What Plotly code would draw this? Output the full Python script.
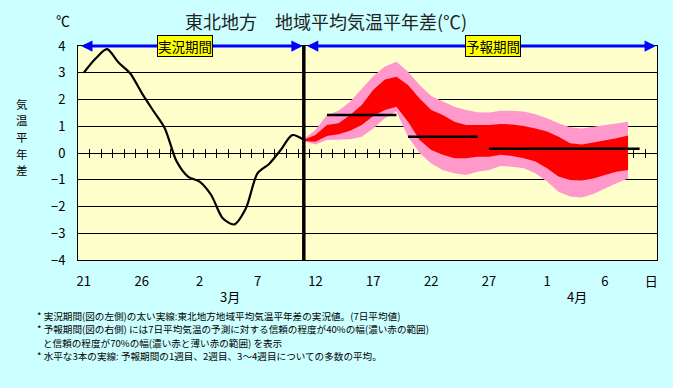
import plotly.graph_objects as go

# ---------------- data ----------------
# day index 0 = Feb 21 (2024, leap year) ... 49 = Apr 10
obs_days = list(range(0, 20))
obs_vals = [3.0, 3.52, 3.88, 3.38, 2.98, 2.25, 1.58, 0.92, -0.30, -0.88,
            -1.07, -1.57, -2.44, -2.67, -2.07, -0.76, -0.41, 0.11, 0.67, 0.49]

fc_days = list(range(19, 48))
pink_hi = [0.52, 0.86, 1.42, 1.58, 1.92, 2.38, 2.88, 3.23, 3.41, 3.04, 2.54, 2.13, 1.92, 1.73, 1.61,
           1.52, 1.51, 1.58, 1.58, 1.55, 1.45, 1.30, 1.11, 0.96, 0.92, 0.98, 1.05, 1.11, 1.17]
red_hi = [0.50, 0.67, 1.05, 1.11, 1.42, 1.79, 2.36, 2.75, 2.85, 2.54, 2.04, 1.61, 1.42, 1.17, 1.05,
          1.05, 1.05, 1.08, 1.07, 1.01, 0.92, 0.80, 0.61, 0.36, 0.32, 0.39, 0.46, 0.55, 0.65]
red_lo = [0.45, 0.42, 0.64, 0.70, 0.83, 1.05, 1.38, 1.61, 1.73, 1.17, 0.49, 0.11, -0.07, -0.20, -0.20,
          -0.14, -0.14, -0.07, -0.11, -0.20, -0.32, -0.57, -0.88, -1.01, -1.03, -0.95, -0.82, -0.70, -0.64]
pink_lo = [0.45, 0.32, 0.49, 0.49, 0.51, 0.61, 0.92, 1.30, 1.55, 0.61, 0.0, -0.39, -0.64, -0.76, -0.82,
           -0.70, -0.64, -0.49, -0.51, -0.57, -0.76, -1.07, -1.45, -1.63, -1.66, -1.53, -1.32, -1.13, -0.95]

week_start = [21, 28, 35]
week_end = [27, 34, 48]
week_avg = [1.42, 0.61, 0.16]

boundary_day = 19

tick_days = [0, 5, 10, 15, 20, 25, 30, 35, 40, 45, 49]
tick_text = ["21", "26", "2", "7", "12", "17", "22", "27", "1", "6", "日"]
ytick_vals = [-4, -3, -2, -1, 0, 1, 2, 3, 4]
ytick_text = ["−4", "−3", "−2", "−1", "0", "1", "2", "3", "4"]
ylabel_chars = ["気", "温", "平", "年", "差"]

# ---------------- geometry helpers ----------------
W, H = 673, 388
ML, MR, MT, MB = 78, 16, 46, 128
PW, PH = W - ML - MR, H - MT - MB


def px(x):
    return (x - ML) / PW


def py(y):
    return (H - MB - y) / PH


FONT = "Noto Sans CJK JP"
BLUE = "#0000FF"

fig = go.Figure()

# bands
fig.add_trace(go.Scatter(x=fc_days, y=pink_lo, mode="lines", line=dict(width=0, color="#FF99CC"),
                         showlegend=False, hoverinfo="skip"))
fig.add_trace(go.Scatter(x=fc_days, y=pink_hi, mode="lines", line=dict(width=0, color="#FF99CC"),
                         fill="tonexty", fillcolor="#FF99CC", showlegend=False, hoverinfo="skip"))
fig.add_trace(go.Scatter(x=fc_days, y=red_lo, mode="lines", line=dict(width=0, color="#FF0000"),
                         showlegend=False, hoverinfo="skip"))
fig.add_trace(go.Scatter(x=fc_days, y=red_hi, mode="lines", line=dict(width=0, color="#FF0000"),
                         fill="tonexty", fillcolor="#FF0000", showlegend=False, hoverinfo="skip"))

# week average lines
for s, e, v in zip(week_start, week_end, week_avg):
    fig.add_trace(go.Scatter(x=[s, e], y=[v, v], mode="lines", line=dict(color="black", width=2.5),
                             showlegend=False, hoverinfo="skip"))

# observed
fig.add_trace(go.Scatter(x=obs_days, y=obs_vals, mode="lines",
                         line=dict(color="black", width=2.2, shape="spline", smoothing=0.8),
                         showlegend=False))

# boundary line
fig.add_shape(type="line", xref="x", yref="paper", x0=boundary_day, x1=boundary_day, y0=0, y1=1,
              line=dict(color="black", width=3.5))

half_ticks = [d + 0.5 for d in range(0, 49)]

fig.update_layout(
    width=W, height=H,
    margin=dict(l=ML, r=MR, t=MT, b=MB),
    paper_bgcolor="#CCFFFF",
    plot_bgcolor="#FFFFCC",
    font=dict(family=FONT, color="black", size=13),
    showlegend=False,
    xaxis=dict(range=[-0.5, 49.5], tickvals=tick_days, ticktext=tick_text, showgrid=False,
               zeroline=False, showline=True, mirror=True, linecolor="black", linewidth=1,
               ticks="", ticklabelstandoff=9, tickfont=dict(size=13, family=FONT)),
    xaxis2=dict(range=[-0.5, 49.5], overlaying="x", anchor="free", position=0.5,
                tickvals=half_ticks, showticklabels=False, ticks="outside", ticklen=4,
                tickcolor="black", tickwidth=1, showgrid=False, zeroline=False, showline=False,
                layer="below traces"),
    xaxis3=dict(range=[-0.5, 49.5], overlaying="x", anchor="free", position=0.5,
                tickvals=half_ticks, showticklabels=False, ticks="inside", ticklen=4,
                tickcolor="black", tickwidth=1, showgrid=False, zeroline=False, showline=False,
                layer="below traces"),
    yaxis=dict(range=[-4, 4], tickvals=ytick_vals, ticktext=ytick_text, showgrid=True,
               gridcolor="black", gridwidth=1, zeroline=False, showline=True, mirror=True,
               linecolor="black", linewidth=1, ticks="", ticklabelstandoff=9,
               tickfont=dict(size=13, family=FONT)),
)

# dummy traces so the tick axes are drawn
fig.add_trace(go.Scatter(x=[], y=[], xaxis="x2", showlegend=False))
fig.add_trace(go.Scatter(x=[], y=[], xaxis="x3", showlegend=False))

ann = []
# title
ann.append(dict(x=px(326), y=py(21), xref="paper", yref="paper", text="東北地方　地域平均気温平年差(℃)",
                showarrow=False, font=dict(size=18, color="#222222"), xanchor="center", yanchor="middle"))
ann.append(dict(x=px(63), y=py(20), xref="paper", yref="paper", text="℃", showarrow=False,
                font=dict(size=14), xanchor="center", yanchor="middle"))
# y label (stacked characters)
for i, ch in enumerate(ylabel_chars):
    ann.append(dict(x=px(22), y=py(103.5 + 16.7 * i), xref="paper", yref="paper", text=ch,
                    showarrow=False, font=dict(size=11.5), xanchor="center", yanchor="middle",
                    height=16))
# month labels
ann.append(dict(x=12.6, y=py(296), xref="x", yref="paper", text="3月", showarrow=False,
                font=dict(size=13), xanchor="center", yanchor="middle"))
ann.append(dict(x=42.6, y=py(296), xref="x", yref="paper", text="4月", showarrow=False,
                font=dict(size=13), xanchor="center", yanchor="middle"))

# period arrows
ann.append(dict(x=18.9, y=4, ax=-0.35, ay=4, xref="x", yref="y", axref="x", ayref="y", text="",
                showarrow=True, arrowhead=2, arrowside="end+start", arrowsize=0.75, arrowwidth=3,
                arrowcolor=BLUE))
ann.append(dict(x=49.4, y=4, ax=19.15, ay=4, xref="x", yref="y", axref="x", ayref="y", text="",
                showarrow=True, arrowhead=2, arrowside="end+start", arrowsize=0.75, arrowwidth=3,
                arrowcolor=BLUE))
ann.append(dict(x=8.77, y=4, xref="x", yref="y", text="実況期間", showarrow=False,
                font=dict(size=13.5, color="black"), bgcolor="#FFFF00", bordercolor="black",
                borderwidth=1, borderpad=0, xanchor="center", yanchor="middle"))
ann.append(dict(x=35.3, y=4, xref="x", yref="y", text="予報期間", showarrow=False,
                font=dict(size=13.5, color="black"), bgcolor="#FFFF00", bordercolor="black",
                borderwidth=1, borderpad=0, xanchor="center", yanchor="middle"))

# footnotes
notes = [
    (35, 315, "* 実況期間(図の左側)の太い実線:東北地方地域平均気温平年差の実況値。(7日平均値)"),
    (35, 328.5, "* 予報期間(図の右側) には7日平均気温の予測に対する信頼の程度が40%の幅(濃い赤の範囲)"),
    (41, 342, "と信頼の程度が70%の幅(濃い赤と薄い赤の範囲) を表示"),
    (35, 355.5, "* 水平な3本の実線: 予報期間の1週目、2週目、3～4週目についての多数の平均。"),
]
for x0, y0, t in notes:
    ann.append(dict(x=px(x0), y=py(y0), xref="paper", yref="paper", text=t, showarrow=False,
                    font=dict(size=9.6), xanchor="left", yanchor="middle", height=13))

fig.update_layout(annotations=ann)

fig.write_html("out.html", config={"displayModeBar": False},
               post_script="document.body.style.margin='0';document.body.style.background='#CCFFFF';")
